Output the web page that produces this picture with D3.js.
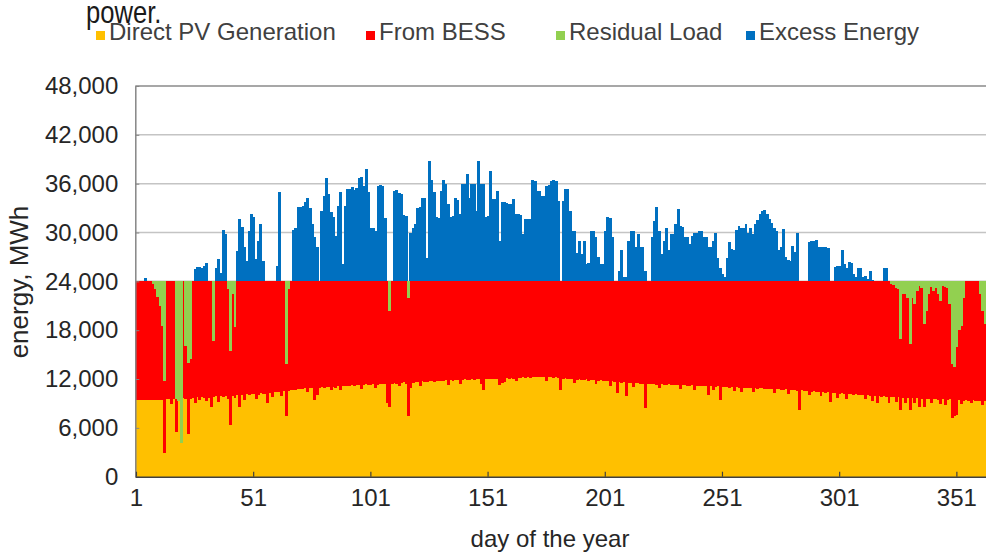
<!DOCTYPE html>
<html>
<head>
<meta charset="utf-8">
<script src="https://cdn.jsdelivr.net/npm/d3@7"></script>
<style>
  body { margin: 0; background: #fff; }
  text { font-family: "Liberation Sans", Arial, sans-serif; }
</style>
</head>
<body>
<svg id="chart" width="986" height="555"></svg>
<script>
// daily load is flat, so BESS share = load - pv - residual
const LOAD = 24000;

// direct PV generation per day, MWh
const pvGen = [
  9450,9460,9450,9470,9460,9450,9460,9470,9450,9460,
  9480,9400,2900,9500,9550,8900,9600,5500,9400,4100,
  9650,9500,5300,9600,9700,9000,9750,9400,9800,9650,
  9300,9700,8600,9800,9900,9200,9950,9850,9900,9600,
  6300,9900,9700,10000,8600,10050,9400,10100,10000,10150,
  10100,9600,10050,10250,10200,10150,9000,10300,9800,10400,
  10350,10450,9900,10500,7400,10550,10600,10650,10700,10750,
  10800,10750,10850,10400,10850,10950,9400,10000,10900,11000,
  10950,11050,11000,10600,11050,10900,11100,10600,11150,11100,
  11200,11150,11250,11200,11300,11250,10800,11300,11350,11250,
  11300,11400,10900,11300,11450,11400,11350,9000,8600,11400,
  11500,11450,11100,11500,11600,11450,7400,10900,11550,11600,
  11650,11200,11700,11650,11600,11750,11700,11650,11750,11800,
  11750,11800,11850,11300,11850,11800,11900,11850,11400,11900,
  11950,11850,11900,11950,11900,12000,11950,11400,10600,11950,
  12000,11950,12050,12000,11950,11300,11500,11600,12100,12000,
  12100,12050,11700,12100,12150,12200,12100,12200,12150,12250,
  12200,12250,12300,12200,12250,11700,12250,12200,12150,12200,
  12100,10700,12050,12100,12000,12050,11950,11500,11900,11950,
  11900,11850,11950,11800,11900,11850,11400,11750,11850,11700,
  11750,11700,11200,11700,11600,10300,11650,11500,11600,9900,
  11550,11500,11000,11550,11500,11400,11450,8400,11400,11350,
  11400,11350,11300,10900,11350,11300,11250,11350,11300,11250,
  11300,11250,10800,11300,11250,11200,11150,11250,10700,11150,
  11200,11150,11100,11200,10000,11100,10600,11050,11100,9400,
  11050,11000,11050,10950,11000,10500,11000,10900,10400,10950,
  10900,10850,10950,10400,10850,10800,10900,10850,10800,10750,
  10800,10750,10300,10800,10750,10700,10650,10750,10200,10650,
  10600,10650,10550,8200,10600,10550,10500,10000,10450,10500,
  10400,10450,9900,10400,10300,10350,9200,10300,10250,9700,
  10200,10250,10150,9600,10100,10150,10050,10100,10000,10050,
  10000,9500,10050,9950,9300,9950,9000,9900,9850,9900,
  9850,9000,9800,9850,9200,9800,8200,9700,9100,9650,
  8200,9700,9100,9650,8600,9600,8600,9550,9600,9000,
  9550,9500,9450,8900,9500,8800,9450,9500,7200,7500,
  7600,9400,8900,9350,9400,9350,9000,9400,9350,9300,
  9350,8800,9250,9300,9250
];

// residual load (not covered), MWh
const residualLoad = [
  0,0,0,0,0,0,0,300,900,1900,
  3000,5500,12300,0,0,0,0,14500,14700,19900,
  0,8000,10000,9500,0,0,0,0,0,0,
  0,0,0,7300,0,0,0,0,0,1000,
  8500,1500,5600,0,0,0,0,0,0,0,
  0,0,0,0,0,0,0,0,0,0,
  0,0,0,0,10100,1000,0,0,0,0,
  0,0,0,0,0,0,0,0,0,0,
  0,0,0,0,0,0,0,0,0,0,
  0,0,0,0,0,0,0,0,0,0,
  0,0,0,0,0,0,0,0,3700,0,
  0,0,0,0,0,0,2000,0,0,0,
  0,0,0,0,0,0,0,0,0,0,
  0,0,0,0,0,0,0,0,0,0,
  0,0,0,0,0,0,0,0,0,0,
  0,0,0,0,0,0,0,0,0,0,
  0,0,0,0,0,0,0,0,0,0,
  0,0,0,0,0,0,0,0,0,0,
  0,0,0,0,0,0,0,0,0,0,
  0,0,0,0,0,0,0,0,0,0,
  0,0,0,0,0,0,0,0,0,0,
  0,0,0,0,0,0,0,0,0,0,
  0,0,0,0,0,0,0,0,0,0,
  0,0,0,0,0,0,0,0,0,0,
  0,0,0,0,0,0,0,0,0,0,
  0,0,0,0,0,0,0,0,0,0,
  0,0,0,0,0,0,0,0,0,0,
  0,0,0,0,0,0,0,0,0,0,
  0,0,0,0,0,0,0,0,0,0,
  0,0,0,0,0,0,0,0,0,0,
  0,0,0,0,0,0,0,0,0,0,
  0,0,0,0,0,0,0,0,0,0,
  0,0,300,500,800,1000,7100,1500,1600,2000,
  7700,2000,2800,1200,600,800,5200,3600,1500,700,
  1200,800,1500,2400,600,700,800,2800,10100,10500,
  8100,6000,5500,2000,0,0,0,0,0,0,
  1500,3600,5200,7200,7000
];

// excess energy above the load, MWh
const excessEnergy = [
  0,0,0,0,400,0,0,0,0,0,
  0,0,0,0,0,0,0,0,0,0,
  0,0,0,0,0,1500,1750,1800,1700,1850,
  2250,0,0,0,1700,2750,1000,6350,5800,0,
  0,0,0,3770,7660,6630,4180,2540,6230,8280,
  7870,2750,5000,7050,2540,0,0,0,0,0,
  1930,10930,0,0,0,0,0,6300,6600,9100,
  9100,9300,9800,10300,9000,7000,5500,4200,0,8700,
  10500,12700,10700,8500,7900,5600,9300,11000,2100,9300,
  11300,11300,11600,11200,11500,12700,12800,11700,13800,11000,
  6600,6600,6200,11700,11800,11700,7800,0,0,0,
  11100,11200,10900,10700,8100,8000,0,6000,6500,7000,
  9000,9100,10300,10300,2900,14800,12400,11000,7900,7800,
  11100,12400,12000,9500,7900,8000,10300,10000,8300,12000,
  11900,13200,10300,11900,11900,8700,14800,12000,11900,7900,
  8000,13600,10100,10100,11100,5000,9700,9700,9600,9500,
  9500,10100,8300,8300,8200,5800,7600,7700,7600,12400,
  12300,11100,11100,10500,10500,11700,11800,12300,12400,12300,
  9900,0,9900,11300,11300,8700,6200,6200,3500,5000,
  3400,5000,2100,2200,6200,6200,5400,3000,2100,2100,
  6200,7900,7800,5400,0,0,1300,3800,500,500,
  5000,6200,6200,4200,5800,4200,4200,1300,0,0,
  5400,7400,9100,6200,3400,5000,6600,3800,5800,5800,
  7000,8900,6800,6700,5400,5400,4600,5600,6000,6000,
  6200,6200,5400,5400,4200,4200,5000,6000,2900,1700,
  900,500,2900,4800,4000,3800,6300,6800,6600,6600,
  7000,6000,6600,5800,7100,7500,8300,8700,8800,8300,
  7600,7200,6500,6200,3800,4200,6400,3000,2600,2500,
  4300,3600,6000,0,0,0,0,4800,4900,5000,
  5100,4200,4200,4200,4200,4100,0,0,1800,1900,
  1900,3800,2100,1700,2400,2300,900,500,1700,1700,
  500,700,300,1300,200,100,100,0,100,1700,
  1700,100,100,0,0,0,0,0,0,0,
  0,0,0,0,0,0,0,0,0,0,
  0,0,0,0,0,0,0,0,0,0,
  0,0,0,0,0,0,0,0,0,0,
  0,0,0,0,0
];

const seriesNames = ["Direct PV Generation", "From BESS", "Residual Load", "Excess Energy"];
const seriesColors = ["#FFC000", "#FF0000", "#92D050", "#0070C0"];
const dayTicks = [1, 51, 101, 151, 201, 251, 301, 351];
const energyTicks = [0, 6000, 12000, 18000, 24000, 30000, 36000, 42000, 48000];

if (pvGen.length !== 365 || residualLoad.length !== 365 || excessEnergy.length !== 365) {
  throw new Error("day arrays: " + pvGen.length + " " + residualLoad.length + " " + excessEnergy.length);
}

const svg = d3.select("#chart");
const plotLeft = 135.3, plotTop = 86, plotBottom = 476.7, plotRight = 135.3 + 365 * 2.344;

const days = d3.range(1, pvGen.length + 1);
const table = days.map((day, i) => ({
  day: day,
  pv: pvGen[i],
  bess: LOAD - pvGen[i] - residualLoad[i],
  residual: residualLoad[i],
  excess: excessEnergy[i]
}));
const keys = ["pv", "bess", "residual", "excess"];
const stacked = d3.stack().keys(keys)(table);

const x = d3.scaleBand().domain(days).range([plotLeft, plotRight]).padding(0);
const y = d3.scaleLinear().domain([0, 48000]).range([plotBottom, plotTop]);

// gridlines
svg.append("g").selectAll("line")
  .data(energyTicks.filter(v => v > 0))
  .join("line")
  .attr("x1", plotLeft).attr("x2", plotRight)
  .attr("y1", d => y(d)).attr("y2", d => y(d))
  .attr("stroke", d => d === 48000 ? "#8a8a8a" : "#c4c4c4")
  .attr("stroke-width", 1.5);

// stacked day bars (a little overlap so no seams show between days)
svg.append("g")
  .attr("shape-rendering", "crispEdges")
  .selectAll("g")
  .data(stacked)
  .join("g")
  .attr("fill", (d, i) => seriesColors[i])
  .selectAll("rect")
  .data(d => d.filter(p => p[1] > p[0]))
  .join("rect")
  .attr("x", p => x(p.data.day) - 0.2)
  .attr("width", x.bandwidth() + 0.6)
  .attr("y", p => y(p[1]))
  .attr("height", p => y(p[0]) - y(p[1]));

// y axis
const yAxis = svg.append("g")
  .attr("transform", `translate(${plotLeft},0)`)
  .call(d3.axisLeft(y).tickValues(energyTicks).tickFormat(d3.format(","))
    .tickSizeInner(-4).tickSizeOuter(0).tickPadding(17));
yAxis.select(".domain").attr("stroke", "#868686").attr("stroke-width", 1.5);
yAxis.selectAll(".tick line").attr("stroke", "#868686");
yAxis.selectAll("text").attr("font-size", 24).attr("fill", "#262626")
  .attr("font-family", "'Liberation Sans', Arial, sans-serif");

// x axis
const xAxis = svg.append("g")
  .attr("transform", `translate(0,${plotBottom})`)
  .call(d3.axisBottom(x).tickValues(dayTicks)
    .tickSizeInner(-5).tickSizeOuter(0).tickPadding(12));
xAxis.select(".domain").attr("stroke", "#404040").attr("stroke-width", 1.5);
xAxis.selectAll(".tick line").attr("stroke", "#404040").attr("stroke-width", 1.2);
xAxis.selectAll("text").attr("font-size", 24).attr("fill", "#262626")
  .attr("font-family", "'Liberation Sans', Arial, sans-serif");

// axis titles
svg.append("text")
  .attr("transform", "translate(28,282) rotate(-90)")
  .attr("text-anchor", "middle")
  .attr("font-size", 26).attr("fill", "#262626")
  .text("energy, MWh");
svg.append("text")
  .attr("x", 550).attr("y", 547)
  .attr("text-anchor", "middle")
  .attr("font-size", 24).attr("fill", "#262626")
  .text("day of the year");

// legend
const legendX = [96, 366, 556, 746];
const legend = svg.append("g").selectAll("g")
  .data(seriesNames)
  .join("g")
  .attr("transform", (d, i) => `translate(${legendX[i]},0)`);
legend.append("rect")
  .attr("x", 0).attr("y", 31).attr("width", 9).attr("height", 9)
  .attr("fill", (d, i) => seriesColors[i]);
legend.append("text")
  .attr("x", 13).attr("y", 40)
  .attr("font-size", 24).attr("fill", "#404040")
  .text(d => d);

// stray word from the page the chart was cut out of, drawn over the legend
svg.append("text")
  .attr("transform", "translate(86,23) scale(0.8,1)")
  .attr("font-size", 32).attr("fill", "#1a1a1a")
  .text("power.");
</script>
</body>
</html>
